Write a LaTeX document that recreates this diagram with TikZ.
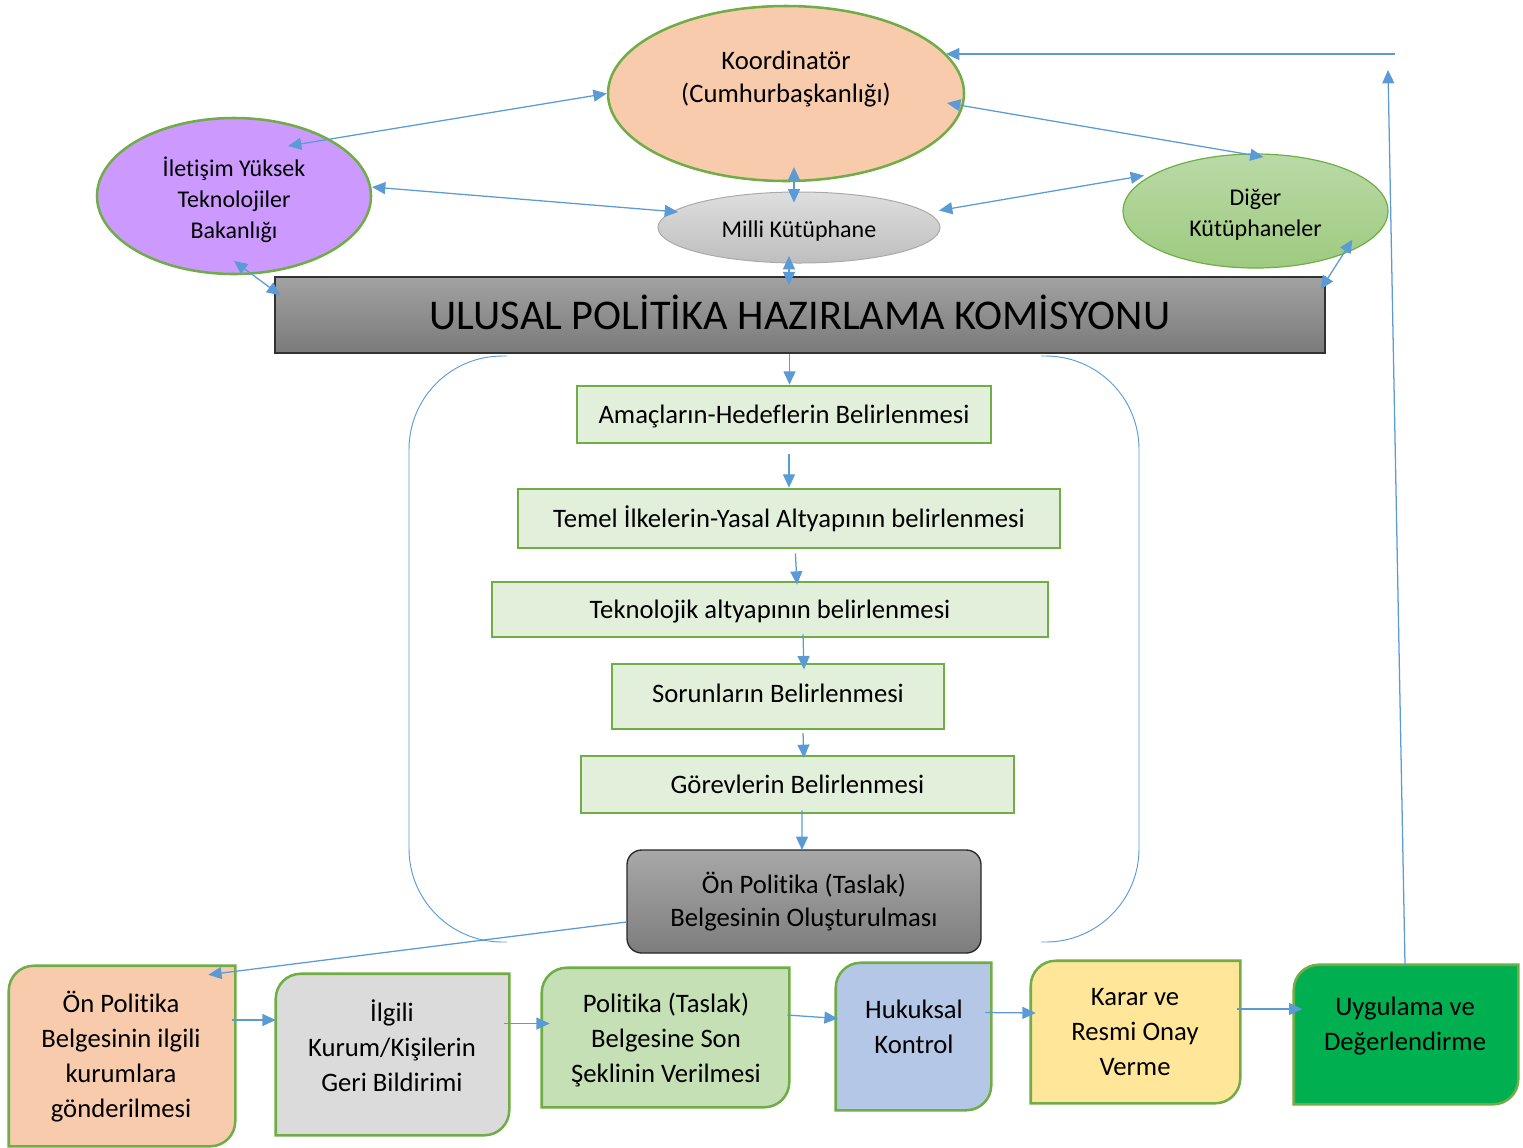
\documentclass[tikz,border=0pt]{standalone}
\usepackage{fontspec}
\setmainfont{Carlito}[Ligatures=NoCommon]
\usetikzlibrary{arrows.meta,shapes.geometric}
\definecolor{bluel}{HTML}{5B9BD5}
\definecolor{boxgreen}{HTML}{70AD47}
\definecolor{lgreen}{HTML}{E2EFDA}
\definecolor{peach}{HTML}{F8CBAD}
\definecolor{lilac}{HTML}{CC99FF}
\definecolor{gray2}{HTML}{DBDBDB}
\definecolor{green3}{HTML}{C5E0B4}
\definecolor{blue4}{HTML}{B4C7E7}
\definecolor{yellow5}{HTML}{FFE699}
\definecolor{green6}{HTML}{00B050}
\newcommand\fA{\fontsize{20}{26.25}\selectfont}
\newcommand\fE{\fontsize{18}{23.25}\selectfont}
\newcommand\fK{\fontsize{20}{24.75}\selectfont}
\newcommand\fB{\fontsize{31.75}{38}\selectfont}
\newcommand\mvtxt[2]{\raisebox{#1}[\height][\depth]{#2}}
\newcommand\rdshape[2]{%
  \filldraw[fill=#2, draw=boxgreen, line width=1.9pt]
    (#1.north east) -- ([xshift=18.75pt]#1.north west)
    arc[start angle=90,end angle=180,radius=18.75pt]
    -- (#1.south west) -- ([xshift=-18.75pt]#1.south east)
    arc[start angle=270,end angle=360,radius=18.75pt] -- cycle;}
\tikzset{
  tipT/.tip={Triangle[length=10pt,width=9pt]},
  arr/.style={draw=bluel, line width=0.95pt, -tipT},
  darr/.style={draw=bluel, line width=0.95pt, tipT-tipT},
  gbox/.style={draw=boxgreen, fill=lgreen, line width=2pt, inner sep=0pt, font=\fA},
  ell/.style={ellipse, inner sep=0pt},
  inv/.style={draw=none, inner sep=0pt},
  btxt/.style={align=center, font=\fA, inner sep=0pt},
  etxt/.style={align=center, font=\fE, inner sep=0pt},
}
\begin{document}
\begin{tikzpicture}[x=0.75pt, y=-0.75pt]
\useasboundingbox (0,0) rectangle (1523,1147);

% ellipses
\node[ell, draw=boxgreen, fill=peach, line width=1.9pt, minimum width=267pt, minimum height=131.25pt] (kor) at (786,93.5) {};
\node[btxt, font=\fK] (kort) at (786,79) {Koordinatör\\(Cumhurbaşkanlığı)};
\node[ell, draw=boxgreen, fill=lilac, line width=1.9pt, minimum width=205.5pt, minimum height=117pt] (ilet) at (234,196) {};
\node[etxt] (iletT) at (234,200) {İletişim Yüksek\\Teknolojiler\\Bakanlığı};
\node[ell, draw={rgb,255:red,170;green,170;blue,170}, line width=0.75pt, top color={rgb,255:red,222;green,222;blue,222}, bottom color={rgb,255:red,190;green,190;blue,190}, minimum width=211.5pt, minimum height=53.25pt] (milli) at (799,227.5) {};
\node[etxt] (milliT) at (799,231) {Milli Kütüphane};
\node[ell, draw=boxgreen, line width=0.9pt, top color={rgb,255:red,186;green,218;blue,166}, bottom color={rgb,255:red,158;green,202;blue,128}, minimum width=198.75pt, minimum height=85.5pt] (diger) at (1255.5,211) {};
\node[etxt] (digerT) at (1255.5,215) {Diğer\\Kütüphaneler};

% banner
\node[draw={rgb,255:red,50;green,50;blue,50}, line width=1.1pt, top color={rgb,255:red,162;green,162;blue,162}, bottom color={rgb,255:red,122;green,122;blue,122}, minimum width=787.5pt, minimum height=57pt, inner sep=0pt, font=\fB] (banner) at (800,315) {\mvtxt{2.25pt}{ULUSAL POLİTİKA HAZIRLAMA KOMİSYONU}};

% brackets
\draw[bluel, line width=0.7pt, rounded corners=70pt] (507,356) -- (409,356) -- (409,942) -- (507,942);
\draw[bluel, line width=0.7pt, rounded corners=70pt] (1041,356) -- (1139,356) -- (1139,942) -- (1041,942);

% steps
\node[gbox, minimum width=310.5pt, minimum height=42.75pt] (s1) at (784,414.5) {\mvtxt{-1.5pt}{Amaçların-Hedeflerin Belirlenmesi}};
\node[gbox, minimum width=406.5pt, minimum height=44.25pt] (s2) at (789,518.5) {Temel İlkelerin-Yasal Altyapının belirlenmesi};
\node[gbox, minimum width=417pt, minimum height=41.25pt] (s3) at (770,609.5) {\mvtxt{-1.5pt}{Teknolojik altyapının belirlenmesi}};
\node[gbox, minimum width=249pt, minimum height=48.75pt] (s4) at (778,696.5) {\mvtxt{2.5pt}{Sorunların Belirlenmesi}};
\node[gbox, minimum width=324.75pt, minimum height=42.75pt] (s5) at (797.5,784.5) {Görevlerin Belirlenmesi};
\node[draw={rgb,255:red,40;green,40;blue,40}, line width=1pt, rounded corners=11pt, top color={rgb,255:red,168;green,168;blue,168}, bottom color={rgb,255:red,125;green,125;blue,125}, minimum width=265.5pt, minimum height=77.25pt, inner sep=0pt, align=center, font=\fontsize{20}{24.75}\selectfont] (onp) at (804,901.5) {Ön Politika (Taslak)\\Belgesinin Oluşturulması};

% bottom row boxes
\node[inv, minimum width=169.5pt, minimum height=135pt] (b1) at (122,1056) {};
\rdshape{b1}{peach}
\node[btxt] (b1t) at (121,1057) {Ön Politika\\Belgesinin ilgili\\kurumlara\\gönderilmesi};
\node[inv, minimum width=174.75pt, minimum height=120.75pt] (b2) at (392.5,1054.5) {};
\rdshape{b2}{gray2}
\node[btxt] (b2t) at (392,1045.5) {İlgili\\Kurum/Kişilerin\\Geri Bildirimi};
\node[inv, minimum width=185.25pt, minimum height=104.25pt] (b3) at (665.5,1037.5) {};
\rdshape{b3}{green3}
\node[btxt] (b3t) at (666,1039.5) {Politika (Taslak)\\Belgesine Son\\Şeklinin Verilmesi};
\node[inv, minimum width=116.25pt, minimum height=110.25pt] (b4) at (913.5,1036.5) {};
\rdshape{b4}{blue4}
\node[btxt] (b4t) at (914,1027) {Hukuksal\\Kontrol};
\node[inv, minimum width=156.75pt, minimum height=106.5pt] (b5) at (1135.5,1032) {};
\rdshape{b5}{yellow5}
\node[btxt] (b5t) at (1135,1032.5) {Karar ve\\Resmi Onay\\Verme};
\node[inv, minimum width=168pt, minimum height=104.25pt] (b6) at (1406,1034.5) {};
\rdshape{b6}{green6}
\node[btxt] (b6t) at (1405,1026) {Uygulama ve\\Değerlendirme};

% top connectors
\draw[darr] ([shift={(54,-50)}]ilet.center) -- (kor.west);
\draw[darr] ([shift={(138,-9)}]ilet.center) -- ([shift={(-121,-15.5)}]milli.center);
\draw[darr] ([shift={(0,65)}]ilet.center) -- ([shift={(6,19)}]banner.north west);
\draw[darr] ([shift={(8,73.5)}]kor.center) -- ([shift={(-5,-25)}]milli.center);
\draw[darr] ([shift={(-10,28.5)}]milli.center) -- ([shift={(-11,9)}]banner.north);
\draw[darr] ([shift={(161,9.5)}]kor.center) -- ([shift={(8,-54)}]diger.center);
\draw[darr] ([shift={(140,-17)}]milli.center) -- ([shift={(-111.5,-35.5)}]diger.center);
\draw[darr] ([shift={(97,28.5)}]diger.center) -- ([shift={(-5,13)}]banner.north east);

% feedback
\coordinate (fbtop) at (1388,70);
\coordinate (fbc) at (1395,54);
\draw[arr] ([xshift=-0.75pt]b6.north) -- (fbtop);
\draw[arr] (fbc) -- ([shift={(160,-39.5)}]kor.center);

% step arrows
\draw[arr] ([shift={(-10.5,0)}]banner.south) -- ([shift={(5.5,0)}]s1.north);
\draw[arr] ([shift={(5,10)}]s1.south) -- (s2.north);
\draw[arr] ([shift={(6.4,4)}]s2.south) -- ([shift={(27,4)}]s3.north);
\draw[arr] ([shift={(33,-4)}]s3.south) -- ([shift={(26,6.7)}]s4.north);
\draw[arr] ([shift={(25,2.7)}]s4.south) -- ([shift={(6.4,3.3)}]s5.north);
\draw[arr] ([shift={(4.4,-4)}]s5.south) -- ([shift={(-2,0.7)}]onp.north);
\draw[arr] ([shift={(0,20.5)}]onp.west) -- ([shift={(-27,9)}]b1.north east);

% bottom arrows
\draw[arr] ([shift={(-3,-36)}]b1.east) -- ([shift={(0,-34.5)}]b2.west);
\draw[arr] ([shift={(-5,-31)}]b2.east) -- ([shift={(8,-14)}]b3.west);
\draw[arr] ([shift={(-2,-22.5)}]b3.east) -- ([shift={(2,-18)}]b4.west);
\draw[arr] ([shift={(-6,-24)}]b4.east) -- ([shift={(5,-19)}]b5.west);
\draw[arr] ([shift={(-3,-23)}]b5.east) -- ([shift={(8.6,-25.5)}]b6.west);
\end{tikzpicture}
\end{document}
